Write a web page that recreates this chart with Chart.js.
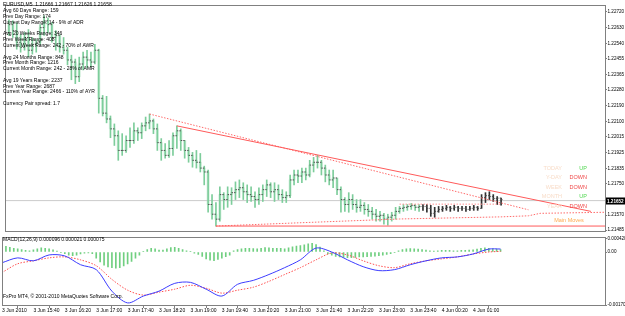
<!DOCTYPE html>
<html>
<head>
<meta charset="utf-8">
<script src="https://cdn.jsdelivr.net/npm/chart.js@4.4.0/dist/chart.umd.min.js"></script>
<style>
  html, body { margin: 0; padding: 0; background: #fff; }
  #wrap { position: relative; width: 625px; height: 316px; overflow: hidden; background: #fff; }
  canvas { position: absolute; left: 0; }
  #main { top: 0; }
  #macd { top: 234px; }
</style>
</head>
<body>
<div id="wrap">
  <canvas id="main" width="625" height="236"></canvas>
  <canvas id="macd" width="625" height="82"></canvas>
</div>
<script>
// EURUSD M5, one bar per index, 3 Jun 15:00 .. 4 Jun 01:35
const opens = [
  1.22620, 1.22603, 1.22648, 1.22614, 1.22548, 1.22520, 1.22575, 1.22503, 1.22536, 1.22548,
  1.22631, 1.22670, 1.22648, 1.22575, 1.22587, 1.22520, 1.22503, 1.22448, 1.22436, 1.22353,
  1.22425, 1.22464, 1.22448, 1.22436, 1.22503, 1.22231, 1.22147, 1.22114, 1.22058, 1.22019,
  1.21936, 1.21936, 1.21992, 1.21992, 1.22047, 1.22036, 1.22075, 1.22092, 1.22103, 1.22058,
  1.21980, 1.21936, 1.21908, 1.21947, 1.22019, 1.22047, 1.21992, 1.21936, 1.21908, 1.21880,
  1.21869, 1.21836, 1.21814, 1.21630, 1.21575, 1.21547, 1.21686, 1.21658, 1.21686, 1.21697,
  1.21714, 1.21725, 1.21702, 1.21686, 1.21675, 1.21658, 1.21686, 1.21714, 1.21741, 1.21702,
  1.21714, 1.21686, 1.21669, 1.21680, 1.21769, 1.21797, 1.21791, 1.21814, 1.21797, 1.21853,
  1.21869, 1.21869, 1.21836, 1.21797, 1.21769, 1.21780, 1.21714, 1.21658, 1.21630, 1.21658,
  1.21630, 1.21614, 1.21625, 1.21602, 1.21591, 1.21575, 1.21563, 1.21569, 1.21547, 1.21558,
  1.21569, 1.21591, 1.21608, 1.21614, 1.21619, 1.21625, 1.21614, 1.21619, 1.21619, 1.21608,
  1.21580, 1.21591, 1.21602, 1.21608, 1.21614, 1.21608, 1.21614, 1.21608, 1.21608, 1.21602,
  1.21608, 1.21614, 1.21608, 1.21669, 1.21680, 1.21675, 1.21664, 1.21666
];
const highs = [
  1.22631, 1.22675, 1.22670, 1.22659, 1.22592, 1.22603, 1.22620, 1.22575, 1.22564, 1.22648,
  1.22698, 1.22687, 1.22659, 1.22614, 1.22592, 1.22575, 1.22520, 1.22475, 1.22453, 1.22464,
  1.22492, 1.22503, 1.22492, 1.22536, 1.22509, 1.22247, 1.22242, 1.22131, 1.22086, 1.22047,
  1.22031, 1.22019, 1.22064, 1.22092, 1.22064, 1.22092, 1.22125, 1.22142, 1.22114, 1.22086,
  1.22003, 1.21975, 1.21992, 1.22036, 1.22075, 1.22058, 1.21992, 1.21953, 1.21925, 1.21936,
  1.21919, 1.21847, 1.21825, 1.21686, 1.21641, 1.21730, 1.21697, 1.21730, 1.21725, 1.21758,
  1.21769, 1.21753, 1.21741, 1.21730, 1.21702, 1.21725, 1.21741, 1.21769, 1.21753, 1.21753,
  1.21741, 1.21714, 1.21702, 1.21797, 1.21825, 1.21825, 1.21836, 1.21836, 1.21880, 1.21897,
  1.21908, 1.21880, 1.21853, 1.21825, 1.21825, 1.21780, 1.21730, 1.21669, 1.21697, 1.21686,
  1.21658, 1.21658, 1.21641, 1.21630, 1.21614, 1.21602, 1.21591, 1.21580, 1.21575, 1.21586,
  1.21614, 1.21619, 1.21630, 1.21630, 1.21636, 1.21630, 1.21630, 1.21630, 1.21630, 1.21625,
  1.21614, 1.21619, 1.21619, 1.21625, 1.21619, 1.21625, 1.21619, 1.21619, 1.21619, 1.21619,
  1.21625, 1.21619, 1.21686, 1.21697, 1.21702, 1.21686, 1.21675, 1.21667
];
const lows = [
  1.22559, 1.22587, 1.22575, 1.22509, 1.22492, 1.22503, 1.22464, 1.22481, 1.22492, 1.22536,
  1.22587, 1.22603, 1.22548, 1.22503, 1.22492, 1.22481, 1.22420, 1.22336, 1.22314, 1.22325,
  1.22392, 1.22403, 1.22409, 1.22425, 1.22147, 1.22131, 1.22092, 1.22008, 1.21964, 1.21880,
  1.21908, 1.21925, 1.21953, 1.21975, 1.21992, 1.22003, 1.22047, 1.22058, 1.22031, 1.21936,
  1.21880, 1.21892, 1.21897, 1.21908, 1.21947, 1.21936, 1.21892, 1.21869, 1.21841, 1.21836,
  1.21814, 1.21741, 1.21586, 1.21547, 1.21508, 1.21536, 1.21602, 1.21614, 1.21630, 1.21658,
  1.21669, 1.21658, 1.21641, 1.21647, 1.21614, 1.21630, 1.21647, 1.21675, 1.21669, 1.21647,
  1.21658, 1.21641, 1.21641, 1.21669, 1.21741, 1.21753, 1.21753, 1.21769, 1.21786, 1.21814,
  1.21836, 1.21797, 1.21758, 1.21741, 1.21725, 1.21686, 1.21586, 1.21591, 1.21586, 1.21602,
  1.21586, 1.21591, 1.21575, 1.21563, 1.21547, 1.21536, 1.21536, 1.21519, 1.21513, 1.21536,
  1.21547, 1.21580, 1.21591, 1.21597, 1.21602, 1.21597, 1.21591, 1.21597, 1.21586, 1.21563,
  1.21558, 1.21586, 1.21591, 1.21597, 1.21591, 1.21597, 1.21591, 1.21597, 1.21591, 1.21597,
  1.21597, 1.21597, 1.21608, 1.21641, 1.21658, 1.21647, 1.21630, 1.21626
];
const closes = [
  1.22603, 1.22648, 1.22614, 1.22548, 1.22520, 1.22575, 1.22503, 1.22536, 1.22548, 1.22631,
  1.22670, 1.22648, 1.22575, 1.22587, 1.22520, 1.22503, 1.22448, 1.22436, 1.22353, 1.22425,
  1.22464, 1.22448, 1.22436, 1.22503, 1.22231, 1.22147, 1.22114, 1.22058, 1.22019, 1.21936,
  1.21936, 1.21992, 1.21992, 1.22047, 1.22036, 1.22075, 1.22092, 1.22103, 1.22058, 1.21980,
  1.21936, 1.21908, 1.21947, 1.22019, 1.22047, 1.21992, 1.21936, 1.21908, 1.21880, 1.21869,
  1.21836, 1.21814, 1.21630, 1.21575, 1.21547, 1.21686, 1.21658, 1.21686, 1.21697, 1.21714,
  1.21725, 1.21702, 1.21686, 1.21675, 1.21658, 1.21686, 1.21714, 1.21741, 1.21702, 1.21714,
  1.21686, 1.21669, 1.21680, 1.21769, 1.21797, 1.21791, 1.21814, 1.21797, 1.21853, 1.21869,
  1.21869, 1.21836, 1.21797, 1.21769, 1.21780, 1.21714, 1.21658, 1.21630, 1.21658, 1.21630,
  1.21614, 1.21625, 1.21602, 1.21591, 1.21575, 1.21563, 1.21569, 1.21547, 1.21558, 1.21569,
  1.21591, 1.21608, 1.21614, 1.21619, 1.21625, 1.21614, 1.21619, 1.21619, 1.21608, 1.21580,
  1.21591, 1.21602, 1.21608, 1.21614, 1.21608, 1.21614, 1.21608, 1.21608, 1.21602, 1.21608,
  1.21614, 1.21608, 1.21669, 1.21680, 1.21675, 1.21664, 1.21666, 1.21658
];
const bidPrice = 1.21652;

// hand drawn objects on the price window: [bar index, price]
const trendSolidTop = [[44, 1.22075], [150, 1.21591]];
const trendDotTop = [[37, 1.22142], [134, 1.21600]];
const supportSolid = [[54, 1.21508], [153.6, 1.21508]];
const supportDot = [[54, 1.21508], [76, 1.21527], [101, 1.21548], [127, 1.21560], [134, 1.21566], [137, 1.21580], [153.6, 1.21586]];
const rangeDot = [[101, 1.21632], [127, 1.21632]];

const priceTicks = [1.22720, 1.22630, 1.22540, 1.22455, 1.22365, 1.22280, 1.22190, 1.22100,
  1.22015, 1.21925, 1.21835, 1.21750, 1.21570, 1.21485];

// MACD(12,26,9)
const macdHist = [
  0.00016, 0.00018, 0.00015, 0.00012, 0.0001, 0.00008, 0.00005, 0.00004, 0.00007, 0.0001,
  0.00013, 0.00012, 0.0001, 0.00007, 0.00003, -0.00002, -0.00005, -0.0001, -0.00012, -0.0001,
  -0.00006, -0.00004, -0.00003, -0.00005, -0.0002, -0.00032, -0.00042, -0.00048, -0.0005, -0.00052,
  -0.0005, -0.00045, -0.00038, -0.0003, -0.0002, -0.0001, 0.00002, 0.00008, 0.00012, 0.0001,
  0.00006, 0.00006, 0.0001, 0.00014, 0.00015, 0.00012, 0.00008, 0.00004, 0.00001, -0.00004,
  -0.00008, -0.00014, -0.00022, -0.00026, -0.00028, -0.00024, -0.0002, -0.00015, -0.0001, 0.00004,
  0.00008, 0.0001, 0.00012, 0.00012, 0.00011, 0.0001, 0.00012, 0.00014, 0.00013, 0.00012,
  0.00012, 0.00012, 0.0001, 0.00013, 0.00017, 0.00019, 0.00021, 0.00023, 0.00026, 0.00028,
  0.00024, 0.00016, 0.00004, -0.00006, -0.0001, -0.00014, -0.00016, -0.00017, -0.00018, -0.00018,
  -0.00017, -0.00016, -0.00016, -0.00015, -0.00014, -0.00013, -0.00012, -0.0001, -0.00008, -0.00005,
  -0.00002, 0.00004, 0.00008, 0.0001, 0.00011, 0.0001, 0.00009, 0.00008, 0.00006, 0.00004,
  0.00003, 0.00004, 0.00005, 0.00005, 0.00005, 0.00004, 0.00004, 0.00005, 0.00005, 0.00006,
  0.00007, 0.00009, 0.00012, 0.00013, 0.00012, 0.0001, 0.00009, 0.000075
];
const macdIdx = [0, 4, 8, 12, 16, 20, 24, 28, 32, 36, 40, 44, 48, 52, 56, 60, 64, 68, 72, 76,
  80, 84, 88, 92, 96, 100, 104, 108, 112, 116, 120, 124, 127];
const macdMain = [-0.000345, -0.000188, -0.000283, -0.000094, -0.000126, -0.000408, -0.000565,
  -0.001256, -0.001633, -0.001413, -0.001256, -0.001005, -0.000974, -0.001193, -0.001413,
  -0.001036, -0.000911, -0.000722, -0.000502, -0.000251, 0.000126, 0.0, -0.000251, -0.000471,
  -0.000597, -0.000565, -0.000408, -0.000283, -0.000188, -0.000157, -0.000063, 0.000094, 0.000096];
const macdSignal = [-0.000659, -0.000377, -0.000283, -0.000188, -0.000157, -0.000251, -0.00044,
  -0.000879, -0.001225, -0.001382, -0.001287, -0.001193, -0.001068, -0.001162, -0.001319,
  -0.001225, -0.00113, -0.000942, -0.000722, -0.000502, -0.000251, -0.000031, -0.000094, -0.000283,
  -0.00044, -0.000502, -0.000377, -0.000283, -0.00022, -0.000157, -0.000063, 0.0, 0.000021];
const macdTicks = [0.00042, 0, -0.0017];
const macdTickText = ['0.000420', '0.00', '-0.001700'];

const timeIdx = [0, 8, 16, 24, 32, 40, 48, 56, 64, 72, 80, 88, 96, 104, 112, 120];
const timeLabels = ['3 Jun 2010', '3 Jun 15:40', '3 Jun 16:20', '3 Jun 17:00', '3 Jun 17:40',
  '3 Jun 18:20', '3 Jun 19:00', '3 Jun 19:40', '3 Jun 20:20', '3 Jun 21:00', '3 Jun 21:40',
  '3 Jun 22:20', '3 Jun 23:00', '3 Jun 23:40', '4 Jun 00:20', '4 Jun 01:00'];

const infoLines = ['EURUSD,M5  1.21666 1.21667 1.21626 1.21658', 'Avg 60 Days Range: 159',
  'Prev Day Range: 174', 'Current Day Range: 14 - 9% of ADR', '',
  'Avg 20 Weeks Range: 346', 'Prev Week Range: 408', 'Current Week Range: 242 - 70% of AWR', '',
  'Avg 24 Months Range: 848', 'Prev Month Range: 1216', 'Current Month Range: 242 - 28% of AMR', '',
  'Avg 19 Years Range: 2237', 'Prev Year Range: 2687', 'Current Year Range: 2466 - 110% of AYR', '',
  'Currency Pair spread: 1.7'];
const moves = [['TODAY', 'UP'], ['Y-DAY', 'DOWN'], ['WEEK', 'DOWN'], ['MONTH', 'UP'], ['YEAR', 'DOWN']];
const macdTitle = 'MACD(12,26,9) 0.000096 0.000021 0.000075';
const copyright = 'FxPro MT4, \u00a9 2001-2010 MetaQuotes Software Corp.';

const FONT = "'Liberation Sans', Arial, sans-serif";
const X_MIN = 0, X_MAX = 153.6;
const GREEN_BARS = 107; // bars after this are drawn plain black
const FRAME = '#808080';

const pts = arr => arr.map(([x, y]) => ({x, y}));
const barColor = (green, dark) => c => c.dataIndex < GREEN_BARS ? green : dark;

const frame = {
  id: 'frame',
  afterDraw(chart) {
    const a = chart.chartArea, ctx = chart.ctx;
    ctx.save();
    ctx.strokeStyle = FRAME;
    ctx.lineWidth = 1;
    ctx.strokeRect(Math.floor(a.left) + 0.5, Math.floor(a.top) + 0.5,
      Math.round(a.right - a.left), Math.round(a.bottom - a.top));
    ctx.restore();
  }
};

const mainText = {
  id: 'mainText',
  afterDraw(chart) {
    const ctx = chart.ctx, y = chart.scales.y, a = chart.chartArea;
    ctx.save();
    ctx.textBaseline = 'middle';
    ctx.font = '5px ' + FONT;
    ctx.fillStyle = '#000';
    infoLines.forEach((t, i) => { if (t) ctx.fillText(t, 3, 5 + i * 5.8); });

    ctx.font = '5.5px ' + FONT;
    moves.forEach(([k, v], i) => {
      const yy = 168 + i * 9.5;
      ctx.textAlign = 'right';
      ctx.fillStyle = '#f8dcc8';
      ctx.fillText(k, 562, yy);
      ctx.fillStyle = v === 'UP' ? '#50d850' : '#f04848';
      ctx.fillText(v, 587, yy);
    });
    ctx.textAlign = 'center';
    ctx.fillStyle = '#ffaa50';
    ctx.fillText('Main Moves', 569, 220);

    // bid box on the price axis
    const by = Math.round(y.getPixelForValue(bidPrice));
    ctx.fillStyle = '#000';
    ctx.fillRect(a.right + 1, by - 3.5, 625 - a.right, 7);
    ctx.fillStyle = '#fff';
    ctx.font = 'bold 4.6px ' + FONT;
    ctx.textAlign = 'left';
    ctx.fillText(bidPrice.toFixed(5), a.right + 2, by + 0.5);
    ctx.restore();
  }
};

const macdText = {
  id: 'macdText',
  afterDraw(chart) {
    const ctx = chart.ctx;
    ctx.save();
    ctx.font = '5px ' + FONT;
    ctx.fillStyle = '#000';
    ctx.textBaseline = 'middle';
    ctx.fillText(macdTitle, 3, 6);
    ctx.fillText(copyright, 3, 63);
    ctx.restore();
  }
};

const idx = opens.map((_, i) => i);
const lineDs = (data, color, dash) => ({
  type: 'line', data: pts(data), borderColor: color, borderWidth: 1,
  borderDash: dash || [], pointRadius: 0, tension: 0, clip: false
});
const axisFont = { size: 4.6, family: FONT };

new Chart(document.getElementById('main'), {
  type: 'bar',
  data: {
    datasets: [
      lineDs(trendSolidTop, '#ff5a5a'),
      lineDs(trendDotTop, '#ff6a6a', [1.5, 1.5]),
      lineDs(supportSolid, '#ff5a5a'),
      lineDs(supportDot, '#ff6a6a', [1.5, 1.5]),
      lineDs(rangeDot, '#ff9090', [1.5, 1.5]),
      {
        type: 'line', showLine: false,
        data: idx.map(i => ({x: i, y: closes[i]})),
        pointStyle: 'dash', rotation: 0, radius: 1.4, borderWidth: 1,
        borderColor: '#505050'
      },
      {
        type: 'line', showLine: false,
        data: idx.map(i => ({x: i, y: opens[i]})),
        pointStyle: 'dash', rotation: 180, radius: 1.4, borderWidth: 1,
        borderColor: '#505050'
      },
      {
        data: idx.map(i => ({x: i, y: [lows[i], highs[i]]})),
        backgroundColor: barColor('#7dcd9b', '#303030'),
        barThickness: 1, grouped: false
      },
      {
        data: idx.map(i => ({x: i, y: [opens[i], closes[i]]})),
        backgroundColor: barColor('rgba(170,224,190,0.45)', 'rgba(0,0,0,0)'),
        barThickness: 2.5, grouped: false
      },
      lineDs([[X_MIN, bidPrice], [X_MAX, bidPrice]], '#cccccc')
    ]
  },
  options: {
    responsive: false, animation: false, devicePixelRatio: 1,
    layout: { padding: { left: 2, top: 2, right: 0, bottom: 4 } },
    plugins: { legend: { display: false }, tooltip: { enabled: false } },
    scales: {
      x: { type: 'linear', min: X_MIN, max: X_MAX, display: false, offset: false },
      y: {
        type: 'linear', position: 'right', min: 1.21480, max: 1.22759,
        afterBuildTicks: s => { s.ticks = priceTicks.map(v => ({value: v})); },
        afterFit: s => { s.width = 20; },
        grid: { drawOnChartArea: false, tickLength: 2, color: FRAME },
        border: { display: true, color: FRAME },
        ticks: { autoSkip: false, padding: 0.5, color: '#000', font: axisFont,
          callback: v => v.toFixed(5) }
      }
    }
  },
  plugins: [frame, mainText]
});

new Chart(document.getElementById('macd'), {
  type: 'bar',
  data: {
    datasets: [
      Object.assign(lineDs(macdIdx.map((x, k) => [x, macdMain[k]]), '#3c3cff'), { tension: 0.3 }),
      Object.assign(lineDs(macdIdx.map((x, k) => [x, macdSignal[k]]), '#ff5050', [1.5, 1.5]), { tension: 0.3 }),
      {
        data: macdHist.map((v, i) => ({x: i, y: v})),
        backgroundColor: '#70cf80', barThickness: 1, grouped: false
      }
    ]
  },
  options: {
    responsive: false, animation: false, devicePixelRatio: 1,
    layout: { padding: { left: 2, top: 2, right: 0, bottom: 0 } },
    plugins: { legend: { display: false }, tooltip: { enabled: false } },
    scales: {
      x: {
        type: 'linear', min: X_MIN, max: X_MAX, offset: false,
        afterBuildTicks: s => { s.ticks = timeIdx.map(v => ({value: v})); },
        afterFit: s => { s.height = 11; },
        grid: { drawOnChartArea: false, tickLength: 3, color: FRAME },
        border: { display: true, color: FRAME },
        ticks: { autoSkip: false, maxRotation: 0, align: 'start', padding: 0, color: '#000',
          font: { size: 5, family: FONT },
          callback: v => timeLabels[timeIdx.indexOf(v)] }
      },
      y: {
        type: 'linear', position: 'right', min: -0.0017, max: 0.000473,
        afterBuildTicks: s => { s.ticks = macdTicks.map(v => ({value: v})); },
        afterFit: s => { s.width = 20; },
        grid: { drawOnChartArea: false, tickLength: 2, color: FRAME },
        border: { display: true, color: FRAME },
        ticks: { autoSkip: false, padding: 0.5, color: '#000', font: axisFont,
          callback: v => macdTickText[macdTicks.indexOf(v)] }
      }
    }
  },
  plugins: [frame, macdText]
});
</script>
</body>
</html>
